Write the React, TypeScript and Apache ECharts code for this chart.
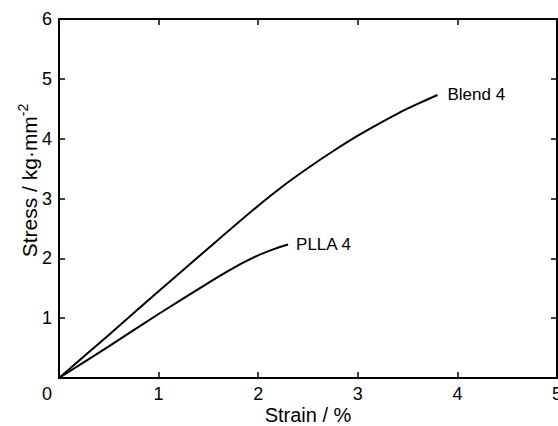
import React, { useEffect, useRef } from "react";
import * as echarts from "echarts";

// Stress–strain curves (strain in %, stress in kg·mm⁻²)
const blendStrain = [0, 0.5, 1.0, 1.5, 2.0, 2.25, 2.5, 2.75, 3.0, 3.2, 3.4, 3.6, 3.8];
const blendStress = [0, 0.72, 1.45, 2.17, 2.88, 3.21, 3.51, 3.79, 4.05, 4.24, 4.42, 4.58, 4.73];
const pllaStrain = [0, 0.5, 1.0, 1.5, 1.7, 1.85, 2.0, 2.15, 2.3];
const pllaStress = [0, 0.53, 1.07, 1.59, 1.79, 1.93, 2.05, 2.15, 2.23];

const seriesNames = ["Blend 4", "PLLA 4"];
const xTicks = [0, 1, 2, 3, 4, 5];
const yTicks = [0, 1, 2, 3, 4, 5, 6];

const FONT = "'Liberation Sans', Arial, sans-serif";

const pair = (xs: number[], ys: number[]) => xs.map((x, i) => [x, ys[i]]);

export default function App() {
  const ref = useRef<HTMLDivElement>(null);

  useEffect(() => {
    document.body.style.margin = "0";
    if (!ref.current) return;
    const chart = echarts.init(ref.current, null, { renderer: "svg" });

    const tickStyle = { inside: true, length: 6, lineStyle: { color: "#000", width: 1.5 } };
    const axisLine = { show: true, onZero: false, lineStyle: { color: "#000", width: 2 } };

    const tickLabel = {
      color: "#000",
      fontFamily: FONT,
      fontSize: 18,
      margin: 7,
      formatter: (v: number) => (v === 0 ? "" : String(v)),
    };

    const endLabel = (distance: number) => ({
      show: true,
      formatter: "{a}",
      distance,
      color: "#000",
      fontFamily: FONT,
      fontSize: 17,
    });

    chart.setOption({
      animation: false,
      backgroundColor: "#fff",
      grid: { left: 59, right: 1, top: 19, bottom: 48, outerBoundsMode: "none" },
      xAxis: [
        {
          type: "value",
          min: xTicks[0],
          max: xTicks[xTicks.length - 1],
          interval: 1,
          axisLine,
          axisTick: tickStyle,
          splitLine: { show: false },
          axisLabel: tickLabel,
          name: "Strain / %",
          nameLocation: "middle",
          nameGap: 27,
          nameMoveOverlap: false,
          nameTextStyle: { color: "#000", fontFamily: FONT, fontSize: 20 },
        },
        {
          type: "value",
          position: "top",
          min: xTicks[0],
          max: xTicks[xTicks.length - 1],
          interval: 1,
          axisLine,
          axisTick: tickStyle,
          axisLabel: { show: false },
          splitLine: { show: false },
        },
      ],
      yAxis: [
        {
          type: "value",
          min: yTicks[0],
          max: yTicks[yTicks.length - 1],
          interval: 1,
          axisLine,
          axisTick: tickStyle,
          splitLine: { show: false },
          axisLabel: tickLabel,
          name: "{a|Stress / kg·mm}{s|-2}",
          nameLocation: "middle",
          nameGap: 16,
          nameMoveOverlap: false,
          nameTextStyle: {
            padding: [0, 0, 0, 36],
            rich: {
              a: { color: "#000", fontFamily: FONT, fontSize: 21 },
              s: { color: "#000", fontFamily: FONT, fontSize: 14, verticalAlign: "top", padding: [0, 0, 13, 0] },
            },
          },
        },
        {
          type: "value",
          position: "right",
          min: yTicks[0],
          max: yTicks[yTicks.length - 1],
          interval: 1,
          axisLine,
          axisTick: tickStyle,
          axisLabel: { show: false },
          splitLine: { show: false },
        },
      ],
      graphic: [
        {
          type: "text",
          x: 47,
          y: 394,
          style: {
            text: "0",
            fill: "#000",
            font: `18px ${FONT}`,
            align: "center",
            verticalAlign: "middle",
          },
        },
      ],
      series: [
        {
          name: seriesNames[0],
          type: "line",
          smooth: 0.3,
          symbol: "none",
          data: pair(blendStrain, blendStress),
          lineStyle: { color: "#000", width: 2 },
          endLabel: endLabel(10),
        },
        {
          name: seriesNames[1],
          type: "line",
          smooth: 0.3,
          symbol: "none",
          data: pair(pllaStrain, pllaStress),
          lineStyle: { color: "#000", width: 2 },
          endLabel: endLabel(8),
        },
      ],
    });

    return () => chart.dispose();
  }, []);

  return <div ref={ref} style={{ width: 558, height: 426 }} />;
}
